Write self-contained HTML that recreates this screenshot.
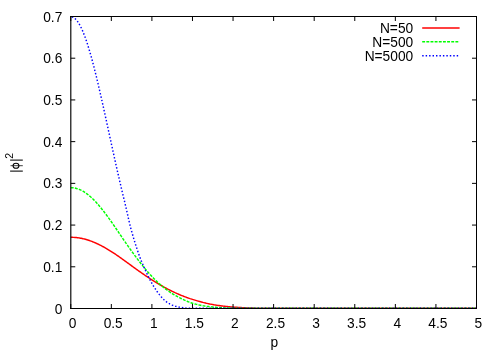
<!DOCTYPE html><html><head><meta charset="utf-8"><title>plot</title><style>html,body{margin:0;padding:0;background:#fff;}svg{display:block;will-change:transform;}text{font-family:"Liberation Sans",sans-serif;font-size:13.75px;fill:#000;}</style></head><body>
<svg width="500" height="350" viewBox="0 0 500 350">
<rect x="0" y="0" width="500" height="350" fill="#ffffff"/>
<text x="72.65" y="327.5" text-anchor="middle">0</text>
<text x="113.23" y="327.5" text-anchor="middle">0.5</text>
<text x="153.80" y="327.5" text-anchor="middle">1</text>
<text x="194.38" y="327.5" text-anchor="middle">1.5</text>
<text x="234.95" y="327.5" text-anchor="middle">2</text>
<text x="275.52" y="327.5" text-anchor="middle">2.5</text>
<text x="316.10" y="327.5" text-anchor="middle">3</text>
<text x="356.67" y="327.5" text-anchor="middle">3.5</text>
<text x="397.25" y="327.5" text-anchor="middle">4</text>
<text x="437.82" y="327.5" text-anchor="middle">4.5</text>
<text x="478.40" y="327.5" text-anchor="middle">5</text>
<text x="62.3" y="313.50" text-anchor="end">0</text>
<text x="62.3" y="271.79" text-anchor="end">0.1</text>
<text x="62.3" y="230.07" text-anchor="end">0.2</text>
<text x="62.3" y="188.36" text-anchor="end">0.3</text>
<text x="62.3" y="146.64" text-anchor="end">0.4</text>
<text x="62.3" y="104.93" text-anchor="end">0.5</text>
<text x="62.3" y="63.21" text-anchor="end">0.6</text>
<text x="62.3" y="21.50" text-anchor="end">0.7</text>
<path d="M70.75,237.30 L71.56,237.30 L72.37,237.32 L73.18,237.35 L74.00,237.39 L74.81,237.44 L75.62,237.51 L76.43,237.59 L77.24,237.68 L78.05,237.78 L78.86,237.90 L79.68,238.03 L80.49,238.17 L81.30,238.33 L82.11,238.50 L82.92,238.68 L83.73,238.87 L84.55,239.07 L85.36,239.29 L86.17,239.52 L86.98,239.76 L87.79,240.01 L88.60,240.27 L89.41,240.54 L90.23,240.83 L91.04,241.13 L91.85,241.43 L92.66,241.75 L93.47,242.08 L94.28,242.42 L95.09,242.77 L95.91,243.13 L96.72,243.50 L97.53,243.87 L98.34,244.26 L99.15,244.65 L99.96,245.05 L100.78,245.47 L101.59,245.88 L102.40,246.31 L103.21,246.75 L104.02,247.19 L104.83,247.64 L105.64,248.10 L106.46,248.57 L107.27,249.05 L108.08,249.53 L108.89,250.02 L109.70,250.52 L110.51,251.02 L111.33,251.53 L112.14,252.05 L112.95,252.58 L113.76,253.11 L114.57,253.65 L115.38,254.19 L116.19,254.74 L117.01,255.30 L117.82,255.86 L118.63,256.43 L119.44,257.00 L120.25,257.57 L121.06,258.14 L121.87,258.72 L122.69,259.30 L123.50,259.89 L124.31,260.47 L125.12,261.06 L125.93,261.65 L126.74,262.24 L127.56,262.83 L128.37,263.42 L129.18,264.02 L129.99,264.61 L130.80,265.20 L131.61,265.80 L132.42,266.39 L133.24,266.98 L134.05,267.57 L134.86,268.16 L135.67,268.74 L136.48,269.33 L137.29,269.90 L138.10,270.48 L138.92,271.05 L139.73,271.62 L140.54,272.19 L141.35,272.76 L142.16,273.32 L142.97,273.88 L143.78,274.43 L144.60,274.98 L145.41,275.53 L146.22,276.08 L147.03,276.62 L147.84,277.16 L148.65,277.70 L149.47,278.24 L150.28,278.77 L151.09,279.30 L151.90,279.82 L152.71,280.34 L153.52,280.86 L154.33,281.37 L155.15,281.88 L155.96,282.38 L156.77,282.88 L157.58,283.37 L158.39,283.85 L159.20,284.34 L160.02,284.81 L160.83,285.28 L161.64,285.75 L162.45,286.21 L163.26,286.66 L164.07,287.11 L164.88,287.55 L165.70,287.99 L166.51,288.42 L167.32,288.85 L168.13,289.27 L168.94,289.69 L169.75,290.10 L170.56,290.51 L171.38,290.91 L172.19,291.30 L173.00,291.69 L173.81,292.07 L174.62,292.45 L175.43,292.83 L176.25,293.19 L177.06,293.56 L177.87,293.92 L178.68,294.27 L179.49,294.62 L180.30,294.96 L181.11,295.30 L181.93,295.63 L182.74,295.95 L183.55,296.27 L184.36,296.58 L185.17,296.89 L185.98,297.19 L186.79,297.49 L187.61,297.77 L188.42,298.06 L189.23,298.33 L190.04,298.61 L190.85,298.87 L191.66,299.13 L192.47,299.38 L193.29,299.63 L194.10,299.88 L194.91,300.13 L195.72,300.37 L196.53,300.61 L197.34,300.85 L198.16,301.08 L198.97,301.32 L199.78,301.54 L200.59,301.77 L201.40,301.99 L202.21,302.20 L203.02,302.42 L203.84,302.62 L204.65,302.83 L205.46,303.02 L206.27,303.22 L207.08,303.40 L207.89,303.59 L208.70,303.76 L209.52,303.93 L210.33,304.10 L211.14,304.26 L211.95,304.41 L212.76,304.56 L213.57,304.70 L214.39,304.84 L215.20,304.97 L216.01,305.10 L216.82,305.23 L217.63,305.35 L218.44,305.47 L219.25,305.58 L220.07,305.70 L220.88,305.80 L221.69,305.91 L222.50,306.01 L223.31,306.11 L224.12,306.20 L224.94,306.29 L225.75,306.38 L226.56,306.46 L227.37,306.55 L228.18,306.63 L228.99,306.70 L229.80,306.78 L230.62,306.85 L231.43,306.92 L232.24,306.98 L233.05,307.05 L233.86,307.11 L234.67,307.17 L235.48,307.23 L236.30,307.28 L237.11,307.34 L237.92,307.39 L238.73,307.45 L239.54,307.50 L240.35,307.55 L241.17,307.59 L241.98,307.64 L242.79,307.68 L243.60,307.72 L244.41,307.76 L245.22,307.80 L246.03,307.84 L246.85,307.87 L247.66,307.91 L248.47,307.94 L249.28,307.97 L250.09,308.00 L250.90,308.02 L251.71,308.05 L252.53,308.07 L253.34,308.09 L254.15,308.11 L254.96,308.13 L255.77,308.14 L256.58,308.16 L257.40,308.17 L258.21,308.18 L259.02,308.19 L259.83,308.20 L260.64,308.20 L261.45,308.21 L262.26,308.22 L263.08,308.22 L263.89,308.23 L264.70,308.24 L265.51,308.24 L266.32,308.25 L267.13,308.25 L267.94,308.25 L268.76,308.26 L269.57,308.26 L270.38,308.27 L271.19,308.27 L272.00,308.27 L272.81,308.27 L273.62,308.28 L277.68,308.29 L281.74,308.29 L285.80,308.30 L289.85,308.30 L293.91,308.30 L297.97,308.30 L302.03,308.30 L306.08,308.30 L310.14,308.30 L314.20,308.30 L318.26,308.30 L322.31,308.30 L326.37,308.30 L330.43,308.30 L334.49,308.30 L338.54,308.30 L342.60,308.30 L346.66,308.30 L350.72,308.30 L354.77,308.30 L358.83,308.30 L362.89,308.30 L366.95,308.30 L371.00,308.30 L375.06,308.30 L379.12,308.30 L383.18,308.30 L387.24,308.30 L391.29,308.30 L395.35,308.30 L399.41,308.30 L403.46,308.30 L407.52,308.30 L411.58,308.30 L415.64,308.30 L419.69,308.30 L423.75,308.30 L427.81,308.30 L431.87,308.30 L435.93,308.30 L439.98,308.30 L444.04,308.30 L448.10,308.30 L452.15,308.30 L456.21,308.30 L460.27,308.30 L464.33,308.30 L468.39,308.30 L472.44,308.30 L476.50,308.30" stroke="#ff0000" stroke-width="1.45" fill="none" stroke-linejoin="round"/>
<path d="M70.75,187.66 L71.56,187.68 L72.37,187.73 L73.18,187.81 L74.00,187.92 L74.81,188.06 L75.62,188.24 L76.43,188.44 L77.24,188.68 L78.05,188.95 L78.86,189.25 L79.68,189.58 L80.49,189.94 L81.30,190.33 L82.11,190.75 L82.92,191.20 L83.73,191.68 L84.55,192.19 L85.36,192.72 L86.17,193.29 L86.98,193.88 L87.79,194.50 L88.60,195.15 L89.41,195.82 L90.23,196.52 L91.04,197.24 L91.85,197.99 L92.66,198.76 L93.47,199.55 L94.28,200.37 L95.09,201.21 L95.91,202.08 L96.72,202.96 L97.53,203.86 L98.34,204.79 L99.15,205.73 L99.96,206.69 L100.78,207.67 L101.59,208.67 L102.40,209.68 L103.21,210.71 L104.02,211.76 L104.83,212.82 L105.64,213.89 L106.46,214.98 L107.27,216.07 L108.08,217.18 L108.89,218.31 L109.70,219.44 L110.51,220.58 L111.33,221.73 L112.14,222.89 L112.95,224.05 L113.76,225.22 L114.57,226.40 L115.38,227.59 L116.19,228.77 L117.01,229.97 L117.82,231.16 L118.63,232.36 L119.44,233.56 L120.25,234.76 L121.06,235.96 L121.87,237.16 L122.69,238.35 L123.50,239.54 L124.31,240.72 L125.12,241.90 L125.93,243.07 L126.74,244.24 L127.56,245.41 L128.37,246.57 L129.18,247.72 L129.99,248.86 L130.80,250.00 L131.61,251.14 L132.42,252.26 L133.24,253.38 L134.05,254.49 L134.86,255.59 L135.67,256.68 L136.48,257.77 L137.29,258.85 L138.10,259.91 L138.92,260.97 L139.73,262.03 L140.54,263.07 L141.35,264.10 L142.16,265.12 L142.97,266.14 L143.78,267.14 L144.60,268.13 L145.41,269.10 L146.22,270.07 L147.03,271.02 L147.84,271.96 L148.65,272.88 L149.47,273.80 L150.28,274.70 L151.09,275.58 L151.90,276.45 L152.71,277.31 L153.52,278.15 L154.33,278.98 L155.15,279.80 L155.96,280.60 L156.77,281.38 L157.58,282.16 L158.39,282.91 L159.20,283.66 L160.02,284.39 L160.83,285.10 L161.64,285.80 L162.45,286.48 L163.26,287.15 L164.07,287.81 L164.88,288.45 L165.70,289.07 L166.51,289.68 L167.32,290.28 L168.13,290.86 L168.94,291.43 L169.75,291.99 L170.56,292.53 L171.38,293.06 L172.19,293.57 L173.00,294.08 L173.81,294.57 L174.62,295.05 L175.43,295.51 L176.25,295.97 L177.06,296.41 L177.87,296.84 L178.68,297.26 L179.49,297.68 L180.30,298.10 L181.11,298.51 L181.93,298.91 L182.74,299.31 L183.55,299.70 L184.36,300.08 L185.17,300.45 L185.98,300.81 L186.79,301.16 L187.61,301.50 L188.42,301.82 L189.23,302.14 L190.04,302.44 L190.85,302.72 L191.66,302.99 L192.47,303.25 L193.29,303.49 L194.10,303.72 L194.91,303.94 L195.72,304.15 L196.53,304.36 L197.34,304.56 L198.16,304.74 L198.97,304.92 L199.78,305.10 L200.59,305.26 L201.40,305.42 L202.21,305.57 L203.02,305.72 L203.84,305.85 L204.65,305.99 L205.46,306.11 L206.27,306.23 L207.08,306.35 L207.89,306.46 L208.70,306.56 L209.52,306.66 L210.33,306.76 L211.14,306.85 L211.95,306.94 L212.76,307.02 L213.57,307.10 L214.39,307.18 L215.20,307.25 L216.01,307.32 L216.82,307.39 L217.63,307.45 L218.44,307.51 L219.25,307.57 L220.07,307.62 L220.88,307.68 L221.69,307.73 L222.50,307.77 L223.31,307.82 L224.12,307.86 L224.94,307.90 L225.75,307.93 L226.56,307.97 L227.37,308.00 L228.18,308.03 L228.99,308.05 L229.80,308.08 L230.62,308.10 L231.43,308.12 L232.24,308.14 L233.05,308.15 L233.86,308.17 L234.67,308.18 L235.48,308.19 L236.30,308.20 L237.11,308.21 L237.92,308.22 L238.73,308.23 L239.54,308.23 L240.35,308.24 L241.17,308.25 L241.98,308.25 L242.79,308.26 L243.60,308.26 L244.41,308.26 L245.22,308.27 L246.03,308.27 L246.85,308.27 L247.66,308.28 L248.47,308.28 L249.28,308.28 L250.09,308.28 L250.90,308.29 L251.71,308.29 L252.53,308.29 L253.34,308.29 L254.15,308.29 L254.96,308.29 L255.77,308.29 L256.58,308.29 L257.40,308.30 L258.21,308.30 L259.02,308.30 L259.83,308.30 L260.64,308.30 L261.45,308.30 L262.26,308.30 L263.08,308.30 L263.89,308.30 L264.70,308.30 L265.51,308.30 L266.32,308.30 L267.13,308.30 L267.94,308.30 L268.76,308.30 L269.57,308.30 L270.38,308.30 L271.19,308.30 L272.00,308.30 L272.81,308.30 L273.62,308.30 L277.68,308.30 L281.74,308.30 L285.80,308.30 L289.85,308.30 L293.91,308.30 L297.97,308.30 L302.03,308.30 L306.08,308.30 L310.14,308.30 L314.20,308.30 L318.26,308.30 L322.31,308.30 L326.37,308.30 L330.43,308.30 L334.49,308.30 L338.54,308.30 L342.60,308.30 L346.66,308.30 L350.72,308.30 L354.77,308.30 L358.83,308.30 L362.89,308.30 L366.95,308.30 L371.00,308.30 L375.06,308.30 L379.12,308.30 L383.18,308.30 L387.24,308.30 L391.29,308.30 L395.35,308.30 L399.41,308.30 L403.46,308.30 L407.52,308.30 L411.58,308.30 L415.64,308.30 L419.69,308.30 L423.75,308.30 L427.81,308.30 L431.87,308.30 L435.93,308.30 L439.98,308.30 L444.04,308.30 L448.10,308.30 L452.15,308.30 L456.21,308.30 L460.27,308.30 L464.33,308.30 L468.39,308.30 L472.44,308.30 L476.50,308.30" stroke="#00ff00" stroke-width="1.45" fill="none" stroke-dasharray="2.9 1.25" stroke-linejoin="round"/>
<path d="M70.75,16.72 L71.56,16.79 L72.37,16.99 L73.18,17.33 L74.00,17.81 L74.81,18.42 L75.62,19.16 L76.43,20.04 L77.24,21.05 L78.05,22.19 L78.86,23.46 L79.68,24.85 L80.49,26.37 L81.30,28.00 L82.11,29.76 L82.92,31.63 L83.73,33.62 L84.55,35.72 L85.36,37.93 L86.17,40.24 L86.98,42.65 L87.79,45.16 L88.60,47.76 L89.41,50.45 L90.23,53.24 L91.04,56.10 L91.85,59.04 L92.66,62.06 L93.47,65.15 L94.28,68.31 L95.09,71.54 L95.91,74.82 L96.72,78.16 L97.53,81.55 L98.34,84.99 L99.15,88.47 L99.96,92.00 L100.78,95.56 L101.59,99.16 L102.40,102.78 L103.21,106.43 L104.02,110.10 L104.83,113.79 L105.64,117.50 L106.46,121.22 L107.27,124.94 L108.08,128.68 L108.89,132.41 L109.70,136.15 L110.51,139.88 L111.33,143.60 L112.14,147.32 L112.95,151.02 L113.76,154.71 L114.57,158.39 L115.38,162.04 L116.19,165.68 L117.01,169.29 L117.82,172.87 L118.63,176.43 L119.44,179.96 L120.25,183.46 L121.06,186.93 L121.87,190.36 L122.69,193.76 L123.50,197.11 L124.31,200.44 L125.12,203.81 L125.93,207.32 L126.74,210.89 L127.56,214.49 L128.37,218.07 L129.18,221.59 L129.99,224.98 L130.80,228.22 L131.61,231.24 L132.42,234.10 L133.24,236.89 L134.05,239.62 L134.86,242.27 L135.67,244.86 L136.48,247.39 L137.29,249.85 L138.10,252.25 L138.92,254.59 L139.73,256.82 L140.54,258.92 L141.35,260.92 L142.16,262.85 L142.97,264.74 L143.78,266.63 L144.60,268.50 L145.41,270.33 L146.22,272.11 L147.03,273.85 L147.84,275.55 L148.65,277.21 L149.47,278.81 L150.28,280.35 L151.09,281.84 L151.90,283.28 L152.71,284.67 L153.52,286.02 L154.33,287.34 L155.15,288.62 L155.96,289.86 L156.77,291.07 L157.58,292.23 L158.39,293.35 L159.20,294.42 L160.02,295.44 L160.83,296.41 L161.64,297.33 L162.45,298.21 L163.26,299.04 L164.07,299.82 L164.88,300.54 L165.70,301.23 L166.51,301.86 L167.32,302.44 L168.13,302.98 L168.94,303.48 L169.75,303.93 L170.56,304.35 L171.38,304.73 L172.19,305.08 L173.00,305.40 L173.81,305.69 L174.62,305.95 L175.43,306.19 L176.25,306.41 L177.06,306.61 L177.87,306.79 L178.68,306.97 L179.49,307.13 L180.30,307.29 L181.11,307.43 L181.93,307.57 L182.74,307.69 L183.55,307.80 L184.36,307.90 L185.17,307.99 L185.98,308.07 L186.79,308.13 L187.61,308.17 L188.42,308.20 L189.23,308.22 L190.04,308.24 L190.85,308.25 L191.66,308.26 L192.47,308.27 L193.29,308.28 L194.10,308.28 L194.91,308.29 L195.72,308.29 L196.53,308.29 L197.34,308.29 L198.16,308.30 L198.97,308.30 L199.78,308.30 L200.59,308.30 L201.40,308.30 L202.21,308.30 L203.02,308.30 L203.84,308.30 L204.65,308.30 L205.46,308.30 L206.27,308.30 L207.08,308.30 L207.89,308.30 L208.70,308.30 L209.52,308.30 L210.33,308.30 L211.14,308.30 L211.95,308.30 L212.76,308.30 L213.57,308.30 L214.39,308.30 L215.20,308.30 L216.01,308.30 L216.82,308.30 L217.63,308.30 L218.44,308.30 L219.25,308.30 L220.07,308.30 L220.88,308.30 L221.69,308.30 L222.50,308.30 L223.31,308.30 L224.12,308.30 L224.94,308.30 L225.75,308.30 L226.56,308.30 L227.37,308.30 L228.18,308.30 L228.99,308.30 L229.80,308.30 L230.62,308.30 L231.43,308.30 L232.24,308.30 L233.05,308.30 L233.86,308.30 L234.67,308.30 L235.48,308.30 L236.30,308.30 L237.11,308.30 L237.92,308.30 L238.73,308.30 L239.54,308.30 L240.35,308.30 L241.17,308.30 L241.98,308.30 L242.79,308.30 L243.60,308.30 L244.41,308.30 L245.22,308.30 L246.03,308.30 L246.85,308.30 L247.66,308.30 L248.47,308.30 L249.28,308.30 L250.09,308.30 L250.90,308.30 L251.71,308.30 L252.53,308.30 L253.34,308.30 L254.15,308.30 L254.96,308.30 L255.77,308.30 L256.58,308.30 L257.40,308.30 L258.21,308.30 L259.02,308.30 L259.83,308.30 L260.64,308.30 L261.45,308.30 L262.26,308.30 L263.08,308.30 L263.89,308.30 L264.70,308.30 L265.51,308.30 L266.32,308.30 L267.13,308.30 L267.94,308.30 L268.76,308.30 L269.57,308.30 L270.38,308.30 L271.19,308.30 L272.00,308.30 L272.81,308.30 L273.62,308.30 L277.68,308.30 L281.74,308.30 L285.80,308.30 L289.85,308.30 L293.91,308.30 L297.97,308.30 L302.03,308.30 L306.08,308.30 L310.14,308.30 L314.20,308.30 L318.26,308.30 L322.31,308.30 L326.37,308.30 L330.43,308.30 L334.49,308.30 L338.54,308.30 L342.60,308.30 L346.66,308.30 L350.72,308.30 L354.77,308.30 L358.83,308.30 L362.89,308.30 L366.95,308.30 L371.00,308.30 L375.06,308.30 L379.12,308.30 L383.18,308.30 L387.24,308.30 L391.29,308.30 L395.35,308.30 L399.41,308.30 L403.46,308.30 L407.52,308.30 L411.58,308.30 L415.64,308.30 L419.69,308.30 L423.75,308.30 L427.81,308.30 L431.87,308.30 L435.93,308.30 L439.98,308.30 L444.04,308.30 L448.10,308.30 L452.15,308.30 L456.21,308.30 L460.27,308.30 L464.33,308.30 L468.39,308.30 L472.44,308.30 L476.50,308.30" stroke="#0000ff" stroke-width="1.45" fill="none" stroke-dasharray="1.45 2.0" stroke-dashoffset="-1.2" stroke-linejoin="round"/>
<path d="M70.75,308.5 V304.0 M70.75,16.5 V21.0 M111.33,308.5 V304.0 M111.33,16.5 V21.0 M151.90,308.5 V304.0 M151.90,16.5 V21.0 M192.47,308.5 V304.0 M192.47,16.5 V21.0 M233.05,308.5 V304.0 M233.05,16.5 V21.0 M273.62,308.5 V304.0 M273.62,16.5 V21.0 M314.20,308.5 V304.0 M314.20,16.5 V21.0 M354.77,308.5 V304.0 M354.77,16.5 V21.0 M395.35,308.5 V304.0 M395.35,16.5 V21.0 M435.93,308.5 V304.0 M435.93,16.5 V21.0 M476.50,308.5 V304.0 M476.50,16.5 V21.0 M70.75,308.50 H75.25 M476.5,308.50 H472.0 M70.75,266.79 H75.25 M476.5,266.79 H472.0 M70.75,225.07 H75.25 M476.5,225.07 H472.0 M70.75,183.36 H75.25 M476.5,183.36 H472.0 M70.75,141.64 H75.25 M476.5,141.64 H472.0 M70.75,99.93 H75.25 M476.5,99.93 H472.0 M70.75,58.21 H75.25 M476.5,58.21 H472.0 M70.75,16.50 H75.25 M476.5,16.50 H472.0" stroke="#000" stroke-width="1" fill="none"/>
<path d="M70.1,16.5 H477.0 M70.1,308.5 H477.0 M476.5,16.5 V308.5" stroke="#000" stroke-width="1" fill="none"/>
<path d="M70.8,16.0 V309.0" stroke="#000" stroke-width="1.15" fill="none"/>
<text x="413.2" y="32.80" text-anchor="end">N=50</text>
<path d="M422.2,27.90 H459.6" stroke="#ff0000" stroke-width="1.45" fill="none"/>
<text x="413.2" y="46.70" text-anchor="end">N=500</text>
<path d="M422.2,41.80 H459.6" stroke="#00ff00" stroke-width="1.45" fill="none" stroke-dasharray="2.9 1.25"/>
<text x="413.2" y="60.60" text-anchor="end">N=5000</text>
<path d="M422.2,55.70 H459.6" stroke="#0000ff" stroke-width="1.45" fill="none" stroke-dasharray="1.45 2.0"/>
<text x="274.3" y="346.5" text-anchor="middle">p</text>
<g stroke="#000" fill="none">
<path d="M10.1,171.2 H22.8 M10.1,160.2 H22.8" stroke-width="1.3" stroke="#2a2a2a"/>
<path d="M10.5,165.7 H22.8" stroke-width="0.75"/>
<ellipse cx="16.0" cy="165.75" rx="2.95" ry="2.6" stroke-width="1.05"/>
</g>
<text transform="translate(13.0,158.7) rotate(-90)" style="font-size:10.5px">2</text>
</svg></body></html>
